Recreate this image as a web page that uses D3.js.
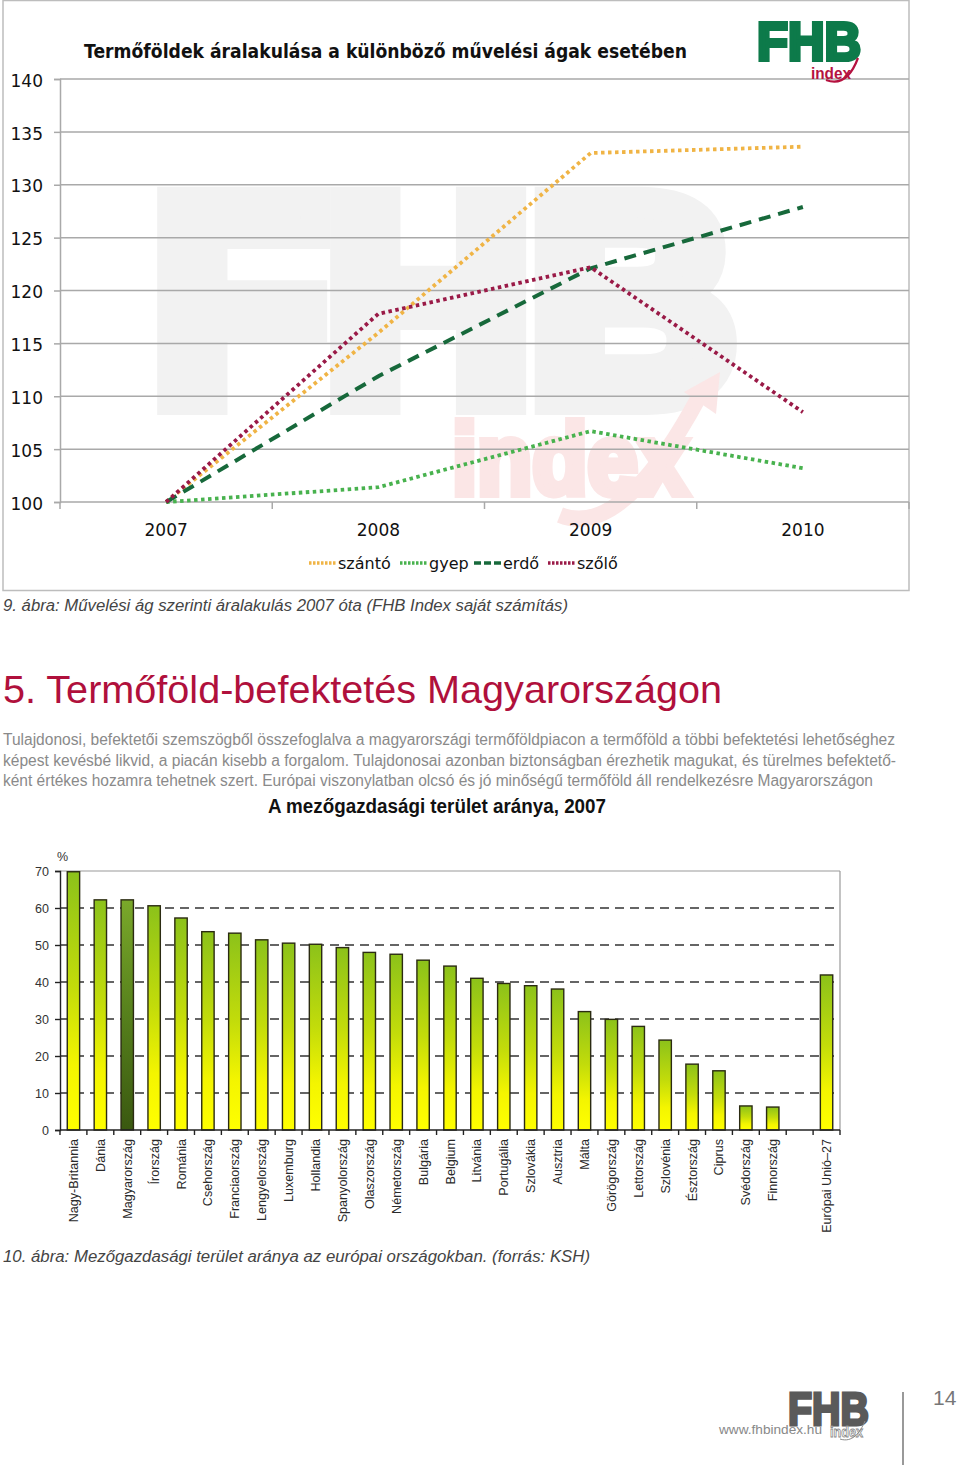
<!DOCTYPE html>
<html><head><meta charset="utf-8">
<script src="https://cdn.jsdelivr.net/npm/d3@7"></script>
<style>body{margin:0;background:#fff}svg{display:block}</style>
</head><body>
<svg id="c" width="960" height="1465"></svg>
<script>
// ---------- data: chart 1 ----------
const years = ["2007", "2008", "2009", "2010"];
const szanto = [100, 116.0, 133.0, 133.6];
const gyep   = [100, 101.4, 106.7, 103.2];
const erdo   = [100, 111.9, 122.1, 127.9];
const szolo  = [100, 117.8, 122.2, 108.5];
const seriesNames = ["szántó", "gyep", "erdő", "szőlő"];
const yTicks1 = [100, 105, 110, 115, 120, 125, 130, 135, 140];

// ---------- data: chart 2 ----------
const countries = ["Nagy-Britannia","Dánia","Magyarország","Írország","Románia","Csehország",
  "Franciaország","Lengyelország","Luxemburg","Hollandia","Spanyolország","Olaszország",
  "Németország","Bulgária","Belgium","Litvánia","Portugália","Szlovákia","Ausztria","Málta",
  "Görögország","Lettország","Szlovénia","Észtország","Ciprus","Svédország","Finnország","",
  "Európai Unió–27"];
const shares = [69.8, 62.2, 62.2, 60.6, 57.3, 53.6, 53.2, 51.4, 50.5, 50.2, 49.3, 48.0, 47.5,
  45.9, 44.3, 41.0, 39.6, 39.0, 38.1, 32.0, 29.9, 28.0, 24.3, 17.8, 16.0, 6.5, 6.2, null, 41.9];
const yTicks2 = [0, 10, 20, 30, 40, 50, 60, 70];

const svg = d3.select("#c");
const defs = svg.append("defs");

// ================= CHART 1 =================
svg.append("rect").attr("x", 3).attr("y", 0.5).attr("width", 906).attr("height", 590)
  .attr("fill", "#fff").attr("stroke", "#bdbdbd").attr("stroke-width", 1.5);

// watermark (heavy block letters)
svg.append("text").attr("x", 153).attr("y", 400).text("FHB")
  .attr("font-family", "Liberation Sans, Arial, sans-serif").attr("font-weight", "bold")
  .attr("font-size", 288).attr("fill", "#f2f2f2")
  .attr("stroke", "#f2f2f2").attr("stroke-width", 30).attr("stroke-linejoin", "miter")
  .attr("textLength", 582).attr("lengthAdjust", "spacingAndGlyphs");
svg.append("text").attr("x", 452).attr("y", 494).text("index")
  .attr("font-family", "Liberation Sans, Arial, sans-serif").attr("font-weight", "bold")
  .attr("font-size", 100).attr("fill", "#fbe6e6")
  .attr("stroke", "#fbe6e6").attr("stroke-width", 8)
  .attr("textLength", 236).attr("lengthAdjust", "spacingAndGlyphs");
svg.append("path")
  .attr("d", "M560,515 C610,535 660,470 700,395")
  .attr("fill", "none").attr("stroke", "#fbe6e6").attr("stroke-width", 16);
svg.append("path").attr("d", "M684,392 L720,372 L716,414 Z").attr("fill", "#fbe6e6");

const x1 = d3.scaleBand().domain(years).range([60, 909]);
const y1 = d3.scaleLinear().domain([100, 140]).range([502, 79]);

// gridlines
svg.append("g").selectAll("line").data(yTicks1).join("line")
  .attr("x1", 60).attr("x2", 909).attr("y1", d => y1(d)).attr("y2", d => y1(d))
  .attr("stroke", "#a9a9a9").attr("stroke-width", 1.5);

// y axis
const ya = svg.append("g").attr("transform", "translate(60,0)")
  .call(d3.axisLeft(y1).tickValues(yTicks1).tickSize(6).tickPadding(11));
ya.select(".domain").attr("stroke", "#a9a9a9").attr("stroke-width", 1.5);
ya.selectAll(".tick line").attr("stroke", "#a9a9a9").attr("stroke-width", 1.5);
ya.selectAll(".tick text").attr("font-family", "DejaVu Sans, sans-serif").attr("font-size", 17)
  .attr("fill", "#111").attr("dy", "0.42em");

// x axis
const xa = svg.append("g").attr("transform", "translate(0,502)")
  .call(d3.axisBottom(x1).tickSize(0).tickPadding(22));
xa.select(".domain").remove();
xa.selectAll(".tick text").attr("font-family", "DejaVu Sans, sans-serif").attr("font-size", 17).attr("fill", "#111");
svg.append("g").selectAll("line").data(years).join("line")
  .attr("x1", d => x1(d) + x1.bandwidth()).attr("x2", d => x1(d) + x1.bandwidth())
  .attr("y1", 502).attr("y2", 509).attr("stroke", "#a9a9a9").attr("stroke-width", 1.5);
svg.append("line").attr("x1", 60).attr("x2", 60).attr("y1", 502).attr("y2", 509)
  .attr("stroke", "#a9a9a9").attr("stroke-width", 1.5);

// lines
const styles = [
  {vals: szanto, color: "#f0b445", dash: "3.5,3.5", w: 3.8},
  {vals: gyep,   color: "#48b24e", dash: "3.5,3.5", w: 3.8},
  {vals: erdo,   color: "#17693b", dash: "12,8",    w: 4},
  {vals: szolo,  color: "#9a1a47", dash: "3.5,3.5", w: 3.8}
];
const line = d3.line().x((d, i) => x1(years[i]) + x1.bandwidth() / 2).y(d => y1(d));
svg.append("g").selectAll("path").data(styles).join("path")
  .attr("d", d => line(d.vals)).attr("fill", "none")
  .attr("stroke", d => d.color).attr("stroke-width", d => d.w)
  .attr("stroke-dasharray", d => d.dash);

// legend
const legX = [309, 400, 474, 548];
const lg = svg.append("g").selectAll("g").data(styles).join("g")
  .attr("transform", (d, i) => `translate(${legX[i]},563)`);
lg.append("line").attr("x1", 0).attr("x2", 28).attr("y1", 0).attr("y2", 0)
  .attr("stroke", d => d.color).attr("stroke-width", 3.5)
  .attr("stroke-dasharray", (d, i) => i === 2 ? "7,3" : "2.5,1.5");
lg.append("text").attr("x", 29).attr("y", 6).text((d, i) => seriesNames[i])
  .attr("font-family", "DejaVu Sans, sans-serif").attr("font-size", 16).attr("fill", "#111");

// title
svg.append("text").attr("x", 84).attr("y", 58)
  .text("Termőföldek áralakulása a különböző művelési ágak esetében")
  .attr("font-family", "DejaVu Sans, sans-serif").attr("font-weight", "bold").attr("font-size", 19)
  .attr("fill", "#111").attr("textLength", 603).attr("lengthAdjust", "spacingAndGlyphs");

// top logo
svg.append("text").attr("x", 757).attr("y", 60).text("FHB")
  .attr("font-family", "Liberation Sans, Arial, sans-serif").attr("font-weight", "bold")
  .attr("font-size", 53).attr("fill", "#0d7a4a")
  .attr("stroke", "#0d7a4a").attr("stroke-width", 4)
  .attr("textLength", 104).attr("lengthAdjust", "spacingAndGlyphs");
svg.append("text").attr("x", 811).attr("y", 79).text("index")
  .attr("font-family", "Liberation Sans, Arial, sans-serif").attr("font-weight", "bold")
  .attr("font-size", 17).attr("fill", "#b5123f")
  .attr("textLength", 40).attr("lengthAdjust", "spacingAndGlyphs");
svg.append("path").attr("d", "M826,80 C842,86 852,74 858,58")
  .attr("fill", "none").attr("stroke", "#b5123f").attr("stroke-width", 2.2);

// caption 1
svg.append("text").attr("x", 3).attr("y", 611)
  .text("9. ábra: Művelési ág szerinti áralakulás 2007 óta (FHB Index saját számítás)")
  .attr("font-family", "Liberation Sans, Arial, sans-serif").attr("font-style", "italic")
  .attr("font-size", 16).attr("fill", "#444")
  .attr("textLength", 565).attr("lengthAdjust", "spacingAndGlyphs");

// heading
svg.append("text").attr("x", 3).attr("y", 703)
  .text("5. Termőföld-befektetés Magyarországon")
  .attr("font-family", "Liberation Sans, Arial, sans-serif")
  .attr("font-size", 39).attr("fill", "#b0103c")
  .attr("textLength", 719).attr("lengthAdjust", "spacingAndGlyphs");

// paragraph
const para = [
  ["Tulajdonosi, befektetői szemszögből összefoglalva a magyarországi termőföldpiacon a termőföld a többi befektetési lehetőséghez", 892, 745],
  ["képest kevésbé likvid, a piacán kisebb a forgalom. Tulajdonosai azonban biztonságban érezhetik magukat, és türelmes befektető-", 893, 766],
  ["ként értékes hozamra tehetnek szert. Európai viszonylatban olcsó és jó minőségű termőföld áll rendelkezésre Magyarországon", 870, 786]
];
svg.append("g").selectAll("text").data(para).join("text")
  .attr("x", 3).attr("y", d => d[2]).text(d => d[0])
  .attr("font-family", "Liberation Sans, Arial, sans-serif").attr("font-size", 16)
  .attr("fill", "#8a8a8a").attr("textLength", d => d[1]).attr("lengthAdjust", "spacingAndGlyphs");

// ================= CHART 2 =================
svg.append("text").attr("x", 268).attr("y", 813).text("A mezőgazdasági terület aránya, 2007")
  .attr("font-family", "Liberation Sans Narrow, Liberation Sans, Arial, sans-serif")
  .attr("font-weight", "bold").attr("font-size", 19.5).attr("fill", "#111")
  .attr("textLength", 338).attr("lengthAdjust", "spacingAndGlyphs");

const x2 = d3.scaleBand().domain(d3.range(countries.length)).range([60, 840])
  .paddingInner(0.54).paddingOuter(0.27);
const y2 = d3.scaleLinear().domain([0, 70]).range([1130, 871]);
const step = x2.step();

// gradients
const g1 = defs.append("linearGradient").attr("id", "gBar").attr("x1", 0).attr("y1", 0).attr("x2", 0).attr("y2", 1);
[[0, "#8cc21a"], [0.45, "#c3dc0a"], [0.75, "#f4f500"], [1, "#ffff00"]].forEach(s =>
  g1.append("stop").attr("offset", s[0]).attr("stop-color", s[1]));
const g2 = defs.append("linearGradient").attr("id", "gHu").attr("x1", 0).attr("y1", 0).attr("x2", 0).attr("y2", 1);
[[0, "#7aa82a"], [0.5, "#56801c"], [1, "#3a5810"]].forEach(s =>
  g2.append("stop").attr("offset", s[0]).attr("stop-color", s[1]));

// dashed gridlines
svg.append("g").selectAll("line").data(yTicks2.filter(d => d > 0 && d < 70)).join("line")
  .attr("x1", 60).attr("x2", 840).attr("y1", d => y2(d)).attr("y2", d => y2(d))
  .attr("stroke", "#333").attr("stroke-width", 1.6).attr("stroke-dasharray", "9,6");
// frame top/right
svg.append("line").attr("x1", 60).attr("x2", 840).attr("y1", y2(70)).attr("y2", y2(70))
  .attr("stroke", "#9a9a9a").attr("stroke-width", 1.2);
svg.append("line").attr("x1", 840).attr("x2", 840).attr("y1", y2(70)).attr("y2", y2(0))
  .attr("stroke", "#9a9a9a").attr("stroke-width", 1.2);

// bars
svg.append("g").selectAll("rect").data(shares.map((v, i) => ({v, i})).filter(d => d.v !== null)).join("rect")
  .attr("x", d => x2(d.i)).attr("width", x2.bandwidth())
  .attr("y", d => y2(d.v)).attr("height", d => y2(0) - y2(d.v))
  .attr("fill", d => countries[d.i] === "Magyarország" ? "url(#gHu)" : "url(#gBar)")
  .attr("stroke", "#2b2b12").attr("stroke-width", 1.4);

// y axis
const ya2 = svg.append("g").attr("transform", "translate(60,0)")
  .call(d3.axisLeft(y2).tickValues(yTicks2).tickSize(5).tickPadding(6));
ya2.select(".domain").attr("stroke", "#222").attr("stroke-width", 1.4);
ya2.selectAll(".tick line").attr("stroke", "#222").attr("stroke-width", 1.4);
ya2.selectAll(".tick text").attr("font-family", "Liberation Sans, Arial, sans-serif")
  .attr("font-size", 12.5).attr("fill", "#333");
svg.append("text").attr("x", 57).attr("y", 861).text("%")
  .attr("font-family", "Liberation Sans, Arial, sans-serif").attr("font-size", 12.5).attr("fill", "#333");

// x axis
svg.append("line").attr("x1", 60).attr("x2", 840).attr("y1", 1130).attr("y2", 1130)
  .attr("stroke", "#222").attr("stroke-width", 1.6);
svg.append("g").selectAll("line").data(d3.range(countries.length + 1)).join("line")
  .attr("x1", i => 60 + i * step).attr("x2", i => 60 + i * step)
  .attr("y1", 1130).attr("y2", 1135).attr("stroke", "#222").attr("stroke-width", 1.4);
svg.append("g").selectAll("text").data(countries).join("text")
  .attr("transform", (d, i) => `translate(${x2(i) + x2.bandwidth() / 2 + 4.5},1139) rotate(-90)`)
  .attr("text-anchor", "end").text(d => d)
  .attr("font-family", "Liberation Sans, Arial, sans-serif").attr("font-size", 12.6).attr("fill", "#2a2a2a");

// caption 2
svg.append("text").attr("x", 3).attr("y", 1262)
  .text("10. ábra: Mezőgazdasági terület aránya az európai országokban. (forrás: KSH)")
  .attr("font-family", "Liberation Sans, Arial, sans-serif").attr("font-style", "italic")
  .attr("font-size", 16).attr("fill", "#444")
  .attr("textLength", 587).attr("lengthAdjust", "spacingAndGlyphs");

// ================= FOOTER =================
svg.append("text").attr("x", 788).attr("y", 1425).text("FHB")
  .attr("font-family", "Liberation Sans, Arial, sans-serif").attr("font-weight", "bold")
  .attr("font-size", 46).attr("fill", "#5a5a5a")
  .attr("stroke", "#5a5a5a").attr("stroke-width", 3)
  .attr("textLength", 81).attr("lengthAdjust", "spacingAndGlyphs");
svg.append("text").attr("x", 830).attr("y", 1437).text("index")
  .attr("font-family", "Liberation Sans, Arial, sans-serif").attr("font-weight", "bold")
  .attr("font-size", 14).attr("fill", "#fff").attr("stroke", "#8a8a8a").attr("stroke-width", 0.8)
  .attr("textLength", 33).attr("lengthAdjust", "spacingAndGlyphs");
svg.append("path").attr("d", "M840,1439 C852,1443 860,1433 865,1421")
  .attr("fill", "none").attr("stroke", "#8a8a8a").attr("stroke-width", 1);
svg.append("text").attr("x", 719).attr("y", 1434).text("www.fhbindex.hu")
  .attr("font-family", "Liberation Sans, Arial, sans-serif").attr("font-size", 13.5).attr("fill", "#888")
  .attr("textLength", 103).attr("lengthAdjust", "spacingAndGlyphs");
svg.append("line").attr("x1", 903).attr("x2", 903).attr("y1", 1392).attr("y2", 1465)
  .attr("stroke", "#555").attr("stroke-width", 1.2);
svg.append("text").attr("x", 933).attr("y", 1405).text("14")
  .attr("font-family", "Liberation Sans, Arial, sans-serif").attr("font-size", 21).attr("fill", "#777");
</script>
</body></html>
